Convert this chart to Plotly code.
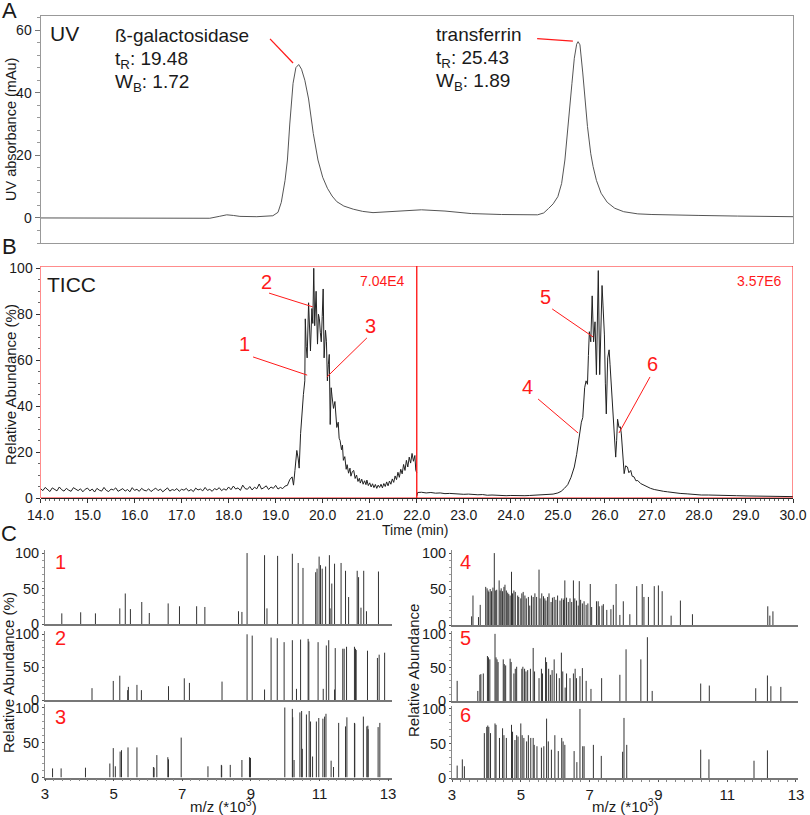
import plotly.graph_objects as go

# ---------------- DATA ----------------
# Panel A: UV trace (time in min, absorbance in mAU)
uv_time = [14.0, 15.0, 15.6, 16.5, 17.2, 17.6, 17.8, 17.96, 18.1, 18.24, 18.6, 18.94, 19.05, 19.12, 19.2,
           19.25, 19.3, 19.37, 19.43, 19.49, 19.55, 19.62, 19.7, 19.8, 19.9, 20.0, 20.1, 20.2, 20.3, 20.45,
           20.65, 20.85, 21.07, 21.4, 21.75, 22.1, 22.6, 23.16, 23.8, 24.57, 24.7, 24.8, 24.9, 25.0, 25.08,
           25.15, 25.2, 25.25, 25.3, 25.35, 25.4, 25.43, 25.47, 25.53, 25.58, 25.63, 25.7, 25.75, 25.82,
           25.92, 26.05, 26.21, 26.4, 26.7, 27.0, 27.41, 28.0, 28.82, 29.4, 30.0]
uv_abs = [0.0, 0.0, -0.05, -0.2, -0.2, -0.1, 0.5, 1.0, 0.8, 0.5, 0.4, 0.7, 1.8, 5.0, 12.0,
          18.5, 30.0, 43.0, 48.0, 49.0, 47.5, 44.0, 38.0, 27.0, 18.5, 13.0, 9.5, 7.0, 5.2, 3.8,
          2.8, 2.1, 1.7, 1.9, 2.3, 2.6, 2.2, 1.4, 1.1, 1.0, 1.6, 3.0, 4.5, 6.8, 11.0,
          18.5, 26.0, 34.5, 43.0, 51.0, 55.5, 56.3, 55.3, 46.3, 37.0, 29.2, 20.5, 16.4, 12.0,
          7.9, 5.0, 3.1, 2.0, 1.3, 1.1, 0.9, 0.8, 0.6, 0.5, 0.4]

# Panel B: TIC, segment 14-22 min (relative abundance, %)
ticc1_time = [14.00, 14.05, 14.10, 14.15, 14.20, 14.25, 14.30, 14.35, 14.40, 14.45, 14.50, 14.55, 14.60, 14.65,
              14.70, 14.75, 14.80, 14.85, 14.90, 14.95, 15.00,
              15.05, 15.10, 15.15, 15.20, 15.25, 15.30, 15.35, 15.40, 15.45, 15.50, 15.55, 15.60, 15.65,
              15.70, 15.75, 15.80, 15.85, 15.90, 15.95, 16.00,
              16.05, 16.10, 16.15, 16.20, 16.25, 16.30, 16.35, 16.40, 16.45, 16.50, 16.55, 16.60, 16.65,
              16.70, 16.75, 16.80, 16.85, 16.90, 16.95, 17.00,
              17.05, 17.10, 17.15, 17.20, 17.25, 17.30, 17.35, 17.40, 17.45, 17.50, 17.55, 17.60, 17.65,
              17.70, 17.75, 17.80, 17.85, 17.90, 17.95, 18.00,
              18.05, 18.10, 18.15, 18.20, 18.25, 18.30, 18.35, 18.40, 18.45, 18.50, 18.55, 18.60, 18.65,
              18.70, 18.75, 18.80, 18.85, 18.90, 18.95, 19.00,
              19.05, 19.10, 19.15, 19.20,
              19.25, 19.30, 19.35, 19.38, 19.41, 19.45, 19.48, 19.50, 19.53, 19.56, 19.59, 19.62, 19.63,
              19.65, 19.67, 19.70, 19.72, 19.74, 19.77, 19.79, 19.81, 19.83, 19.86, 19.89, 19.91, 19.93,
              19.95, 19.97, 19.99, 20.01, 20.03, 20.06, 20.08, 20.10, 20.12, 20.14, 20.16, 20.18, 20.20,
              20.23, 20.26, 20.28, 20.30, 20.33, 20.35, 20.37, 20.40, 20.42, 20.44, 20.47, 20.50, 20.52,
              20.55, 20.58, 20.60, 20.63, 20.66, 20.69, 20.72, 20.75, 20.78, 20.80, 20.83, 20.86, 20.89,
              20.92, 20.94, 20.97, 21.00, 21.03, 21.06, 21.09, 21.12, 21.15, 21.18, 21.21, 21.24, 21.27,
              21.30, 21.33, 21.36, 21.39, 21.42, 21.45, 21.48, 21.51, 21.54, 21.57, 21.60, 21.63, 21.66,
              21.69, 21.72, 21.75, 21.78, 21.81, 21.84, 21.87, 21.90, 21.93, 21.96, 21.98, 22.00]
ticc1_rel = [4.1, 3.2, 4.6, 3.5, 2.8, 4.4, 3.9, 3.1, 4.8, 3.6, 3.0, 4.2, 3.4, 2.9, 4.5, 3.7, 3.2, 4.0, 2.7, 3.8, 4.3,
             3.1, 3.9, 2.6, 4.2, 3.4, 3.0, 4.6, 3.3, 2.8, 3.9, 3.5, 4.4, 2.9, 3.6, 4.1, 3.0, 3.7, 2.7, 4.5, 3.3,
             3.8, 2.9, 4.2, 3.4, 3.1, 4.0, 2.8, 3.6, 4.3, 3.2, 3.9, 2.7, 3.5, 4.4, 3.0, 3.7, 3.3, 4.1, 2.9, 3.8,
             3.4, 4.2, 3.0, 3.7, 2.8, 4.3, 3.5, 3.9, 3.1, 4.6, 3.3, 3.8, 2.9, 4.1, 3.6, 4.5, 3.2, 4.0, 3.4, 4.8,
             3.6, 5.2, 3.9, 4.4, 3.3, 5.6, 4.1, 3.8, 5.0, 3.5, 4.7, 4.0, 6.1, 3.9, 4.5, 5.3, 3.7, 4.8, 4.2, 5.5,
             3.9, 4.6, 4.1, 5.2,
             5.5, 8.0, 9.2, 5.6, 12.0, 20.7, 17.0, 13.0, 28.0, 39.0, 45.0, 51.0, 78.0,
             66.0, 61.0, 85.0, 70.0, 64.0, 82.5, 76.0, 100.0, 75.0, 90.0, 67.0, 80.0, 78.0,
             72.0, 68.0, 79.0, 91.0, 61.0, 73.0, 68.0, 51.0, 58.0, 62.5, 32.0, 48.0, 44.0,
             39.0, 42.0, 34.0, 30.7, 33.0, 26.0, 25.0, 21.0, 23.0, 16.4, 18.0, 12.5, 14.5,
             10.8, 13.0, 9.5, 11.5, 12.0, 8.5, 10.0, 7.2, 8.6, 6.5, 8.2, 6.0, 7.5,
             5.8, 7.8, 5.4, 6.6, 4.8, 6.2, 4.5, 5.9, 4.2, 5.6, 4.6, 6.0, 4.4,
             6.3, 5.0, 7.0, 5.3, 7.4, 6.0, 8.3, 6.8, 9.6, 8.0, 11.2, 9.0, 12.5,
             10.5, 14.6, 12.0, 16.4, 13.5, 17.8, 15.2, 19.4, 16.0, 18.5, 12.0, 11.0]

# Panel B: TIC, segment 22-30 min (relative abundance, %)
ticc2_time = [22.00, 22.02, 22.10, 22.20, 22.30, 22.40, 22.50, 22.60, 22.70, 22.80, 22.90, 23.00, 23.10, 23.20,
              23.30, 23.40, 23.50, 23.60, 23.70, 23.80, 23.90, 24.00, 24.10, 24.20, 24.30, 24.40, 24.50,
              24.60, 24.70, 24.80, 24.90, 25.00, 25.07, 25.14, 25.21, 25.28, 25.35, 25.40, 25.44, 25.46,
              25.50, 25.53, 25.55, 25.57, 25.60, 25.63, 25.65, 25.67, 25.70, 25.73, 25.76, 25.79, 25.82,
              25.84, 25.86, 25.89, 25.92, 25.94, 25.96, 25.99, 26.01, 26.03, 26.06, 26.09, 26.11, 26.13,
              26.16, 26.20, 26.23, 26.25, 26.27, 26.30, 26.33, 26.35, 26.38, 26.41, 26.44, 26.48, 26.51,
              26.55, 26.58, 26.62, 26.66, 26.70, 26.76, 26.82, 26.90, 26.97, 27.05, 27.15, 27.25, 27.33,
              27.45, 27.60, 27.75, 27.90, 28.05, 28.20, 28.40, 28.60, 28.80, 29.00, 29.20, 29.40, 29.60,
              29.80, 30.00]
ticc2_rel = [0.8, 2.4, 2.5, 2.2, 2.4, 2.1, 2.2, 1.9, 2.0, 1.8, 1.9, 1.6, 1.7, 1.5,
             1.4, 1.5, 1.2, 1.3, 1.1, 1.2, 1.0, 1.1, 1.0, 1.2, 1.0, 1.1, 1.2,
             1.1, 1.3, 1.4, 1.7, 2.2, 2.9, 4.2, 5.8, 9.0, 13.5, 19.0, 25.5, 27.9,
             33.0, 35.0, 45.0, 48.0, 51.0, 49.5, 62.0, 72.4, 68.0, 88.0, 68.0, 76.7, 53.7,
             80.0, 99.0, 53.7, 76.7, 92.5, 84.0, 71.0, 50.0, 36.6, 61.0, 64.5, 58.0, 51.0,
             44.0, 30.7, 17.8, 25.0, 34.3, 30.7, 31.0, 27.9, 20.0, 10.6, 14.0, 13.5, 11.0,
             12.0, 9.5, 9.2, 7.5, 7.6, 6.3, 5.6, 4.8, 4.2, 3.7, 3.2, 2.9, 2.7,
             2.3, 2.0, 1.8, 1.5, 1.3, 1.3, 1.1, 1.0, 1.0, 0.9, 0.8, 0.8, 0.7,
             0.7, 0.6]

# Panel C: mass spectra (m/z in thousands, relative abundance %)
spec1_mz = [3.49, 4.04, 4.47, 5.18, 5.34, 5.49, 5.82, 6.04, 6.59, 6.92, 7.42, 7.66, 8.64, 8.74, 8.89, 9.40,
            9.47, 9.78, 10.21, 10.38, 10.52, 10.89, 10.93, 10.99, 11.03, 11.08, 11.18, 11.29, 11.31, 11.36,
            11.44, 11.63, 11.76, 11.85, 12.10, 12.14, 12.21, 12.29, 12.37, 12.72]
spec1_int = [15, 16.5, 15, 22, 43, 21, 31, 15.5, 29, 25, 25, 24, 18, 17, 100, 97,
             22, 96, 99, 86, 79, 73, 78, 95, 83, 78, 81, 97, 22, 57,
             85, 86, 75, 38, 75, 66, 23, 75, 18, 74]

spec2_mz = [4.37, 4.99, 5.18, 5.41, 5.43, 5.68, 5.81, 6.60, 7.06, 7.21, 8.16, 8.89, 9.04, 9.40, 9.59, 9.77,
            9.97, 10.21, 10.33, 10.45, 10.67, 10.69, 10.96, 11.11, 11.20, 11.27, 11.44, 11.46, 11.68, 11.72,
            11.79, 12.02, 12.05, 12.07, 12.40, 12.69, 12.74, 12.90]
spec2_int = [18, 29, 37, 15, 20, 23, 15, 21, 33, 26, 28, 100, 98, 16, 95, 94,
             88, 91, 17, 92, 93, 89, 88, 17, 83, 91, 16, 79, 78, 78,
             81, 81, 78, 76, 75, 64, 69, 72]

spec3_mz = [3.22, 3.47, 4.18, 4.89, 4.99, 5.05, 5.19, 5.23, 5.42, 5.68, 6.16, 6.18, 6.26, 6.58, 6.60, 6.97,
            7.75, 8.14, 8.15, 8.40, 8.74, 8.96, 8.99, 9.99, 10.21, 10.22, 10.26, 10.43, 10.48, 10.50, 10.62,
            10.70, 10.74, 10.80, 10.91, 10.98, 11.10, 11.15, 11.19, 11.34, 11.41, 11.56, 11.76, 11.80, 12.02,
            12.03, 12.28, 12.38, 12.41, 12.42, 12.71, 12.76]
spec3_int = [13, 13, 14, 20, 42, 16, 37, 39, 43, 43, 15, 14, 32, 29, 26, 57,
             16, 18, 17, 18, 25, 29, 28, 100, 98, 86, 25, 93, 95, 41, 90,
             95, 80, 30, 80, 85, 84, 87, 91, 24, 15, 78, 73, 86, 78,
             77, 87, 73, 74, 69, 72, 78]

spec4_mz = [3.57, 3.61, 3.77, 3.82, 3.98, 4.02, 4.05, 4.07, 4.11, 4.15, 4.19, 4.23, 4.27, 4.30, 4.37, 4.40,
            4.43, 4.47, 4.51, 4.54, 4.58, 4.62, 4.65, 4.69, 4.73, 4.76, 4.80, 4.84, 4.91, 4.94, 5.00, 5.03,
            5.07, 5.12, 5.16, 5.22, 5.26, 5.31, 5.36, 5.41, 5.46, 5.53, 5.56, 5.61, 5.66, 5.70, 5.73, 5.78,
            5.82, 5.88, 5.92, 5.97, 6.02, 6.07, 6.14, 6.19, 6.24, 6.26, 6.28, 6.33, 6.38, 6.43, 6.48, 6.53,
            6.57, 6.62, 6.67, 6.70, 6.74, 6.79, 6.84, 6.90, 6.95, 7.02, 7.06, 7.20, 7.25, 7.28, 7.36, 7.40,
            7.50, 7.62, 7.69, 7.77, 7.88, 7.98, 8.17, 8.37, 8.53, 8.58, 8.71, 8.88, 9.00, 9.11, 9.37, 9.64,
            9.99, 12.18, 12.24, 12.33]
spec4_int = [12, 41, 11, 28, 53, 51, 48, 46, 50, 47, 52, 100, 48, 49, 62, 48,
             51, 47, 53, 56, 48, 45, 43, 41, 74, 44, 48, 46, 41, 39, 37, 44,
             46, 41, 37, 39, 27, 41, 39, 44, 39, 77, 37, 44, 40, 37, 34, 39,
             44, 32, 38, 39, 35, 41, 34, 37, 35, 37, 62, 38, 32, 37, 32, 62,
             37, 34, 27, 61, 35, 30, 33, 28, 30, 57, 25, 33, 33, 26, 27, 29,
             21, 22, 28, 57, 14, 33, 15, 54, 57, 39, 39, 54, 55, 47, 13, 34,
             15, 26, 13, 19]

spec5_mz = [3.15, 3.75, 3.81, 3.84, 3.91, 4.03, 4.06, 4.10, 4.25, 4.28, 4.31, 4.34, 4.49, 4.52, 4.56, 4.69,
            4.72, 4.80, 4.84, 4.88, 5.03, 5.06, 5.11, 5.15, 5.20, 5.28, 5.36, 5.40, 5.53, 5.60, 5.63, 5.72,
            5.75, 5.81, 5.86, 5.91, 5.97, 6.04, 6.12, 6.18, 6.22, 6.29, 6.33, 6.43, 6.53, 6.58, 6.62, 6.72,
            6.79, 6.90, 7.04, 7.35, 7.88, 8.06, 8.49, 8.68, 8.82, 10.23, 10.48, 11.83, 12.17, 12.27, 12.56]
spec5_int = [30, 15, 39, 40, 41, 67, 65, 62, 100, 65, 62, 58, 62, 55, 53, 63,
             58, 41, 48, 51, 48, 51, 48, 44, 46, 48, 79, 44, 34, 48, 41, 65,
             58, 48, 39, 46, 62, 41, 34, 72, 44, 20, 41, 34, 41, 48, 34, 37,
             49, 30, 18, 34, 39, 77, 62, 95, 15, 26, 23, 19, 38, 22, 21]

spec6_mz = [3.15, 3.30, 3.36, 3.94, 4.01, 4.04, 4.07, 4.12, 4.25, 4.28, 4.38, 4.47, 4.51, 4.58, 4.73, 4.76,
            4.83, 4.88, 4.92, 5.00, 5.04, 5.09, 5.17, 5.22, 5.29, 5.36, 5.39, 5.47, 5.60, 5.67, 5.75, 5.80,
            5.89, 5.99, 6.09, 6.19, 6.23, 6.28, 6.55, 6.63, 6.72, 6.80, 6.84, 7.11, 7.34, 7.96, 8.00, 8.08,
            10.23, 10.47, 11.78, 12.17]
spec6_int = [18, 27, 17, 65, 74, 76, 74, 65, 79, 77, 58, 72, 62, 58, 77, 67,
             55, 62, 60, 79, 62, 58, 53, 62, 58, 58, 48, 46, 44, 46, 86, 53,
             41, 62, 39, 58, 53, 48, 39, 23, 100, 46, 46, 48, 32, 38, 87, 48,
             41, 27, 25, 40]

spectra = [(spec1_mz, spec1_int), (spec2_mz, spec2_int), (spec3_mz, spec3_int),
           (spec4_mz, spec4_int), (spec5_mz, spec5_int), (spec6_mz, spec6_int)]
spectrum_labels = ["1", "2", "3", "4", "5", "6"]

# ---------------- LAYOUT HELPERS ----------------
W, H = 810, 815
FONT = "Arial, 'Liberation Sans', sans-serif"
RED = "#ff1a1a"
INK = "#1a1a1a"


def X(p):
    return p / W


def Y(p):
    return 1 - p / H


def stick(mz, inten):
    xs, ys = [], []
    for m, v in zip(mz, inten):
        xs += [m, m, None]
        ys += [0, v, None]
    return xs, ys


fig = go.Figure()

# Panel A
fig.add_trace(go.Scatter(x=uv_time, y=uv_abs, mode="lines", line=dict(color="#555", width=1),
                         xaxis="x", yaxis="y", hoverinfo="skip"))
# Panel B
fig.add_trace(go.Scatter(x=ticc1_time, y=ticc1_rel, mode="lines", line=dict(color="#222", width=1),
                         xaxis="x2", yaxis="y2", hoverinfo="skip"))
fig.add_trace(go.Scatter(x=ticc2_time, y=ticc2_rel, mode="lines", line=dict(color="#222", width=1),
                         xaxis="x2", yaxis="y2", hoverinfo="skip"))
# Panel C
for i, (mz, it) in enumerate(spectra):
    xs, ys = stick(mz, it)
    n = i + 3
    fig.add_trace(go.Scatter(x=xs, y=ys, mode="lines", line=dict(color="#333", width=1),
                             xaxis=f"x{n}", yaxis=f"y{n}", hoverinfo="skip"))

layout = dict(width=W, height=H, margin=dict(l=0, r=0, t=0, b=0, autoexpand=False), paper_bgcolor="white",
              plot_bgcolor="rgba(0,0,0,0)", showlegend=False, font=dict(family=FONT, color=INK, size=14))

# Panel A axes
layout["xaxis"] = dict(domain=[X(40.5), X(793)], range=[14, 30], anchor="y", showticklabels=False,
                       ticks="", showline=True, mirror=True, linecolor="#999", linewidth=1,
                       showgrid=False, zeroline=False)
layout["yaxis"] = dict(domain=[Y(243), Y(16)], range=[-8, 64.5], anchor="x", tick0=0, dtick=20,
                       ticks="outside", ticklen=5, tickcolor="#777",
                       minor=dict(ticks="outside", dtick=4, tick0=0, ticklen=3, tickcolor="#999"),
                       showline=True, mirror=True, linecolor="#999", linewidth=1,
                       showgrid=False, zeroline=False, tickfont=dict(size=14))
# Panel B axes
layout["xaxis2"] = dict(domain=[X(40.5), X(793)], range=[14, 30], anchor="y2", tick0=14, dtick=1,
                        tickformat=".1f", ticks="outside", ticklen=4, tickcolor="#333",
                        minor=dict(ticks="outside", dtick=0.1, tick0=14, ticklen=2, tickcolor="#666"),
                        showline=True, linecolor="#222", linewidth=1, showgrid=False, zeroline=False,
                        tickfont=dict(size=14))
layout["yaxis2"] = dict(domain=[Y(498), Y(266)], range=[0, 101], anchor="x2", tick0=0, dtick=20,
                        ticks="outside", ticklen=4, tickcolor="#333",
                        minor=dict(ticks="outside", dtick=5, tick0=0, ticklen=2, tickcolor="#666"),
                        showline=False, showgrid=False, zeroline=False, tickfont=dict(size=14))

# Panel C axes
left_dom = [X(45), X(391.5)]
right_dom = [X(452), X(797.7)]
c_rows = [(624, 549.5), (700, 631), (777.5, 704), (625, 549.5), (701, 630.5), (778, 705.5)]
for i in range(6):
    n = i + 3
    bottom = i in (2, 5)
    dom = left_dom if i < 3 else right_dom
    xr = [3, 13.1] if i < 3 else [3, 13.05]
    yb, yt = c_rows[i]
    xa = dict(domain=dom, range=xr, anchor=f"y{n}", showline=True, linecolor="#777", linewidth=1.5,
              showgrid=False, zeroline=False)
    if bottom:
        xa.update(tick0=3, dtick=2, ticks="outside", ticklen=2, tickcolor="#555",
                  minor=dict(ticks="outside", dtick=0.25, tick0=3, ticklen=2, tickcolor="#888"),
                  tickfont=dict(size=15))
    else:
        xa.update(showticklabels=False, ticks="")
    layout[f"xaxis{n}"] = xa
    layout[f"yaxis{n}"] = dict(domain=[Y(yb), Y(yt)], range=[0, 105], anchor=f"x{n}", tick0=0, dtick=50,
                               ticks="outside", ticklen=2, tickcolor="#555",
                               minor=dict(ticks="outside", dtick=10, tick0=0, ticklen=2, tickcolor="#999"),
                               showline=True, linecolor="#888", linewidth=1, showgrid=False,
                               zeroline=False, tickfont=dict(size=14.5))

# Shapes: red boxes in panel B and callout lines
shapes = [
    dict(type="rect", xref="x2", yref="y2", x0=14, x1=22, y0=0, y1=101, line=dict(color=RED, width=1)),
    dict(type="rect", xref="x2", yref="y2", x0=22, x1=30, y0=0, y1=101, line=dict(color=RED, width=1)),
]
callouts_A = [((18.88, 57.2), (19.37, 49.5)), ((24.56, 57.3), (25.32, 56.5))]
for (a, b) in callouts_A:
    shapes.append(dict(type="line", xref="x", yref="y", x0=a[0], y0=a[1], x1=b[0], y1=b[1],
                       line=dict(color=RED, width=1.3)))
callouts_B = [((18.52, 61.4), (19.67, 53.5)), ((18.86, 89.2), (19.79, 83.2)), ((20.94, 69.7), (20.09, 52.7)),
              ((24.58, 43.1), (25.43, 28.3)), ((24.88, 82.3), (25.75, 70.1)), ((26.96, 52.7), (26.30, 28.3))]
for (a, b) in callouts_B:
    shapes.append(dict(type="line", xref="x2", yref="y2", x0=a[0], y0=a[1], x1=b[0], y1=b[1],
                       line=dict(color=RED, width=1)))
layout["shapes"] = shapes

ann = []


def text(s, x, y, size, color=INK, xanchor="center", yanchor="middle", angle=0):
    ann.append(dict(text=s, x=X(x), y=Y(y), xref="paper", yref="paper", showarrow=False,
                    font=dict(size=size, color=color, family=FONT), xanchor=xanchor, yanchor=yanchor,
                    textangle=angle))


text("A", 9, 10, 22)
text("B", 9, 246, 22)
text("C", 9, 533, 22)
text("UV", 48, 34, 21, xanchor="left")
text("ß-galactosidase", 113, 36, 19, xanchor="left")
text("t<sub>R</sub>: 19.48", 113, 60, 19, xanchor="left")
text("W<sub>B</sub>: 1.72", 113, 83, 19, xanchor="left")
text("transferrin", 434, 35, 19, xanchor="left")
text("t<sub>R</sub>: 25.43", 434, 59, 19, xanchor="left")
text("W<sub>B</sub>: 1.89", 434, 82, 19, xanchor="left")
text("UV absorbance (mAu)", 11, 130, 14.5, angle=-90)
text("TICC", 45, 284, 21, xanchor="left")
text("7.04E4", 382, 281, 14, color=RED)
text("3.57E6", 759, 281, 14, color=RED)
for s, (x, y) in zip(["1", "2", "3", "4", "5", "6"],
                     [(244, 344), (266, 282), (370, 326), (527, 387), (545, 297), (652, 364)]):
    text(s, x, y, 20, color=RED)
text("Relative Abundance (%)", 11, 385, 15, angle=-90)
text("Time (min)", 415, 530, 14)
for s, (x, y) in zip(spectrum_labels, [(60, 562), (60, 638), (60, 717), (465, 562), (465, 638), (465, 715)]):
    text(s, x, y, 20, color=RED)
text("Relative Abundance (%)", 8, 673, 15, angle=-90)
text("Relative Abundance", 413, 671, 15, angle=-90)
text("m/z (*10<sup>3</sup>)", 223, 805, 15)
text("m/z (*10<sup>3</sup>)", 625, 805, 15)
layout["annotations"] = ann

fig.update_layout(**layout)
fig.write_html("out.html", config={"displayModeBar": False},
               post_script="document.body.style.margin='0';document.body.style.overflow='hidden';")
